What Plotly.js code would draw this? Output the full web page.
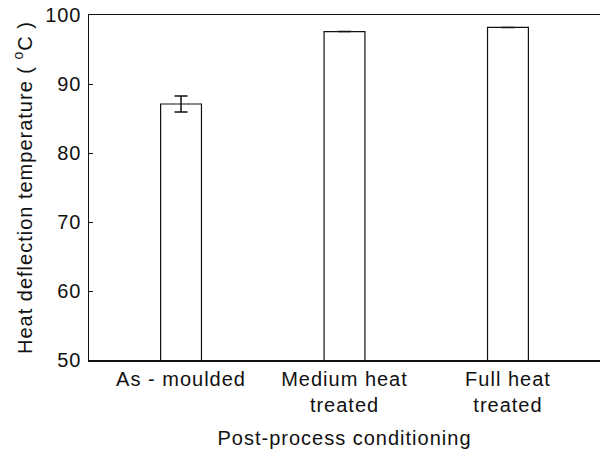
<!DOCTYPE html>
<html>
<head>
<meta charset="utf-8">
<script src="https://cdn.plot.ly/plotly-3.0.1.min.js"></script>
<style>
  html, body { margin: 0; padding: 0; background: #fff; }
  #chart { width: 600px; height: 450px; }
  #chart text { letter-spacing: 1px; }
</style>
</head>
<body>
<div id="chart"></div>
<script>
// Heat deflection temperature for each post-process condition
const conditions = ["As - moulded", "Medium heat<br>treated", "Full heat<br>treated"];
const hdt = [87.1, 97.6, 98.2];
const hdtError = [1.15, 0, 0];
const yTicks = [50, 60, 70, 80, 90, 100];

const font = { family: "Liberation Sans, Arial, sans-serif", size: 20, color: "#111" };

const trace = {
  type: "bar",
  x: [0, 1, 2],
  y: hdt,
  base: 0,
  width: 0.25,
  marker: { color: "#ffffff", line: { color: "#111", width: 1.2 } },
  error_y: {
    type: "data",
    array: hdtError,
    visible: true,
    color: "#111",
    thickness: 1.5,
    width: 6.5
  },
  hoverinfo: "none"
};

const layout = {
  width: 600,
  height: 450,
  margin: { l: 89, r: 0, t: 15, b: 90 },
  paper_bgcolor: "#fff",
  plot_bgcolor: "#fff",
  font: font,
  showlegend: false,
  xaxis: {
    range: [-0.563, 2.563],
    tickmode: "array",
    tickvals: [0, 1, 2],
    ticktext: conditions,
    ticks: "",
    showgrid: false,
    zeroline: false,
    showline: true,
    linecolor: "#111",
    linewidth: 1.5,
    mirror: true,
    tickfont: font,
    title: { text: "Post-process conditioning", font: font, standoff: 16 }
  },
  yaxis: {
    range: [50, 100],
    tickmode: "array",
    tickvals: yTicks,
    ticks: "inside",
    ticklen: 4,
    tickwidth: 1,
    tickcolor: "#111",
    ticklabelstandoff: 2,
    showgrid: false,
    zeroline: false,
    showline: true,
    linecolor: "#111",
    linewidth: 1.5,
    tickfont: font,
    title: { text: "Heat deflection temperature ( <sup>o</sup>C )", font: font, standoff: 10 }
  }
};

Plotly.newPlot("chart", [trace], layout, { staticPlot: true, displayModeBar: false });
</script>
</body>
</html>
